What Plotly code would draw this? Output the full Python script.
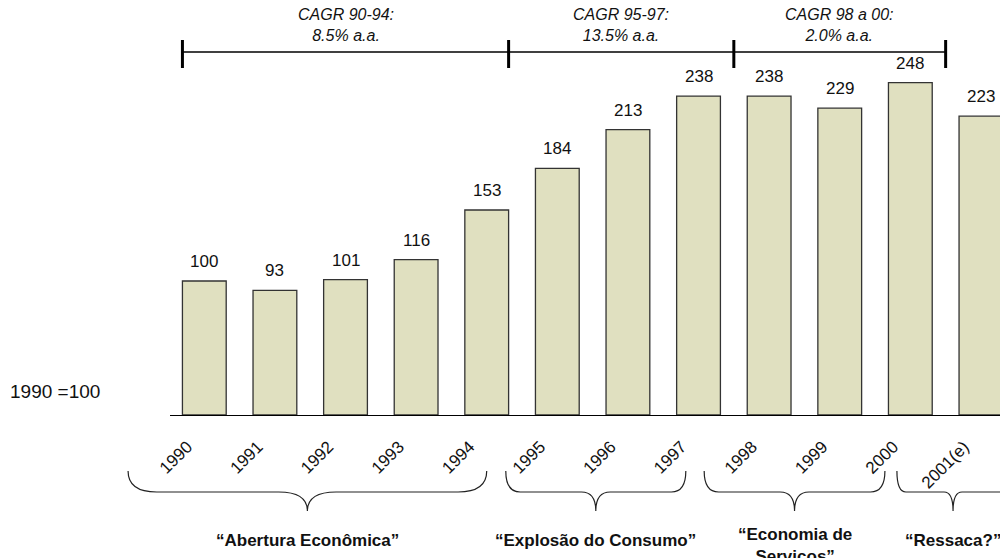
import plotly.graph_objects as go

# ---- data -------------------------------------------------------------
years = ["1990", "1991", "1992", "1993", "1994", "1995", "1996", "1997",
         "1998", "1999", "2000", "2001(e)"]
index_values = [100, 93, 101, 116, 153, 184, 213, 238, 238, 229, 248, 223]

cagr_labels = ["CAGR 90-94:<br>8.5% a.a.",
               "CAGR 95-97:<br>13.5% a.a.",
               "CAGR 98 a 00:<br>2.0% a.a."]
phase_labels = ["“Abertura Econômica”",
                "“Explosão do Consumo”",
                "“Economia de<br>Serviços”",
                "“Ressaca?”"]
base_label = "1990 =100"

# ---- geometry / style ---------------------------------------------------
W, H = 1000, 558
M_L, M_R, M_T, M_B = 170, 0, 0, 143
PLOT_H = H - M_T - M_B
X_RANGE = [-0.486, 11.27]
Y_RANGE = [0, 309.7]

FONT = "Liberation Sans, Arial, sans-serif"
INK = "#111111"
BAR_FILL = "#E0E0C0"
BAR_LINE = "#333333"


def paper_y(y_px):
    """Convert a pixel row of the page into paper coordinates."""
    return (H - M_B - y_px) / PLOT_H


def paper_x(x_px):
    return (x_px - M_L) / (W - M_L - M_R)


def idx_to_paper(x):
    """Category position (bar index) expressed in paper coordinates."""
    return (x - X_RANGE[0]) / (X_RANGE[1] - X_RANGE[0])


x_pos = list(range(len(years)))

fig = go.Figure()
fig.add_trace(go.Bar(
    x=x_pos, y=index_values,
    marker=dict(color=BAR_FILL, line=dict(color=BAR_LINE, width=1.3)),
    hoverinfo="skip",
))

# value labels above the bars
for x, v in zip(x_pos, index_values):
    fig.add_annotation(x=x, y=v, text=str(v), showarrow=False,
                       yanchor="bottom", yshift=8,
                       font=dict(family=FONT, size=17, color=INK))

shapes = []

# CAGR bracket along the top
bracket_edges = [-0.31, 4.31, 7.5, 10.5]
bar_y, tick_top, tick_bot = paper_y(52), paper_y(40), paper_y(68)
shapes.append(dict(type="line", xref="x", yref="paper",
                   x0=bracket_edges[0], x1=bracket_edges[-1], y0=bar_y, y1=bar_y,
                   line=dict(color="black", width=1.5)))
for e in bracket_edges:
    shapes.append(dict(type="line", xref="x", yref="paper",
                       x0=e, x1=e, y0=tick_bot, y1=tick_top,
                       line=dict(color="black", width=3)))
for a, b, txt in zip(bracket_edges[:-1], bracket_edges[1:], cagr_labels):
    fig.add_annotation(x=(a + b) / 2, xref="x", y=paper_y(25), yref="paper",
                       yanchor="middle", text=f"<i>{txt}</i>", showarrow=False,
                       font=dict(family=FONT, size=16, color=INK))

# curly braces grouping the years into phases
brace_spans = [(-1.08, 4.0), (4.27, 6.82), (7.08, 9.64), (9.81, 11.4)]
y_end, y_mid, y_tip = paper_y(471), paper_y(492), paper_y(511)


def brace_path(x0, x1):
    x0, x1 = idx_to_paper(x0), idx_to_paper(x1)
    xc = (x0 + x1) / 2
    r = 0.08 * (x1 - x0)
    return (f"M {x0},{y_end} Q {x0},{y_mid} {x0 + r},{y_mid} "
            f"L {xc - r},{y_mid} Q {xc},{y_mid} {xc},{y_tip} "
            f"Q {xc},{y_mid} {xc + r},{y_mid} "
            f"L {x1 - r},{y_mid} Q {x1},{y_mid} {x1},{y_end}")


for (x0, x1), txt in zip(brace_spans, phase_labels):
    shapes.append(dict(type="path", xref="paper", yref="paper",
                       path=brace_path(x0, x1),
                       line=dict(color="#222222", width=1.2)))
    # two-line captions sit a little higher than single-line ones
    top_px = 529 - 6 * txt.count("<br>")
    fig.add_annotation(x=(x0 + x1) / 2, xref="x", y=paper_y(top_px), yref="paper",
                       yanchor="top", text=f"<b>{txt}</b>", showarrow=False,
                       font=dict(family=FONT, size=17, color=INK))

fig.add_annotation(x=paper_x(8), xref="paper", y=paper_y(391), yref="paper",
                   xanchor="left", yanchor="middle", text=base_label,
                   showarrow=False, font=dict(family=FONT, size=19, color=INK))

fig.update_layout(
    width=W, height=H,
    margin=dict(l=M_L, r=M_R, t=M_T, b=M_B, pad=0),
    paper_bgcolor="white", plot_bgcolor="white",
    showlegend=False, bargap=0.38,
    shapes=shapes,
    xaxis=dict(range=X_RANGE, tickmode="array", tickvals=x_pos, ticktext=years,
               tickangle=-45, showgrid=False, zeroline=False,
               showline=True, linecolor="black", linewidth=1.3, ticks="",
               ticklabelstandoff=14, ticklabelshift=-17,
               tickfont=dict(family=FONT, size=17, color=INK)),
    yaxis=dict(range=Y_RANGE, visible=False, showgrid=False, zeroline=False),
)

fig.write_html("out.html", config={"displayModeBar": False})
